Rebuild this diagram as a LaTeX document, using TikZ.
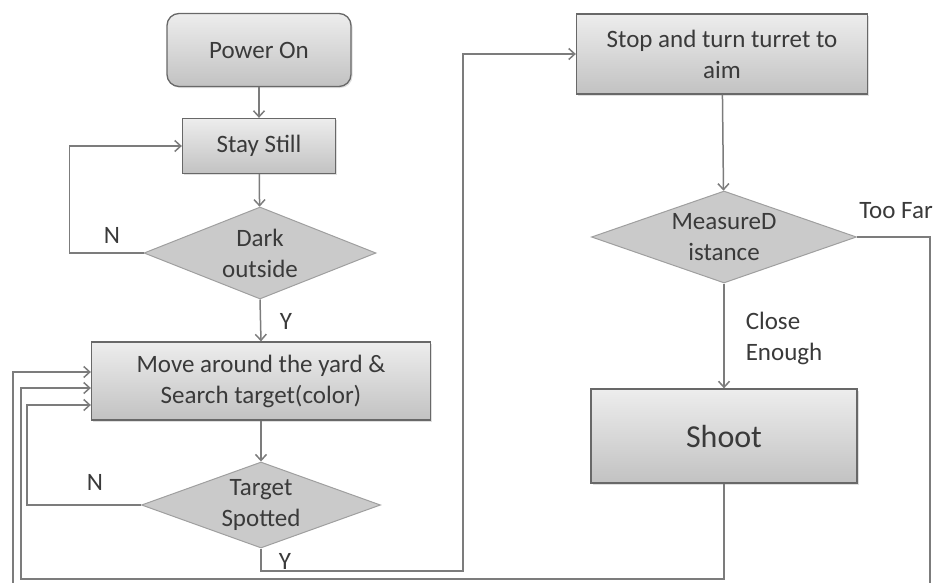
\documentclass[tikz,border=0pt]{standalone}
\usepackage{fontspec}
\setmainfont{Carlito}
\usepackage{tikz}
\usetikzlibrary{positioning}
\usetikzlibrary{shapes.geometric}
\usetikzlibrary{shadows}
\usetikzlibrary{arrows.meta}
\definecolor{linegray}{HTML}{7C7C7C}
\definecolor{edgegray}{HTML}{686868}
\definecolor{boxtop}{HTML}{EDEDED}
\definecolor{boxbot}{HTML}{C2C2C2}
\definecolor{diafill}{HTML}{CACACA}
\definecolor{txtgray}{HTML}{3A3A3A}
\begin{document}
\begin{tikzpicture}[x=1pt,y=-1pt,->,>={Straight Barb[length=6pt,width=11pt]},
                    line width=1.5pt,draw=linegray,
                    every node/.style={text=txtgray,font=\fontsize{25}{31}\selectfont},
                    proc node/.style={rectangle,draw=edgegray,line width=1.3pt,
                            top color=boxtop,bottom color=boxbot,align=center,inner sep=0pt,
                            drop shadow={opacity=0.25,shadow xshift=1.5pt,shadow yshift=-1.5pt}},
                    start node/.style={proc node,rounded corners=12pt},
                    test node/.style={diamond,draw=gray!75,line width=1pt,fill=diafill,
                            align=center,inner sep=0pt,aspect=2.5},
                    label node/.style={inner sep=0pt,align=left}]

                \useasboundingbox (0,0) rectangle (935,582);

                % left column
                \node[start node,minimum width=184pt,minimum height=73pt] (power) at (259,50) {Power On};
                \node[proc node,minimum width=153pt,minimum height=55pt] (still) at (259,146) {Stay Still};
                \node[test node,minimum width=232pt,minimum height=92pt] (dark) at (260,253) {Dark\\outside};
                \node[proc node,minimum width=339pt,minimum height=78pt] (move) at (261,381) {Move around the yard \&\\Search target(color)};
                \node[test node,minimum width=239pt,minimum height=86pt] (target) at (261,505) {Target\\Spotted};

                % right column
                \node[proc node,minimum width=291pt,minimum height=80pt] (stop) at (722,54) {Stop and turn turret to\\aim};
                \node[test node,minimum width=265pt,minimum height=92pt] (measure) at (724,237) {MeasureD\\istance};
                \node[proc node,minimum width=266pt,minimum height=94pt,
                      font=\fontsize{32}{38}\selectfont] (shoot) at (724,436) {Shoot};

                % bends
                \coordinate (ybend) at (463,571);
                \coordinate (farcorner) at (930,592);
                \coordinate (farleft) at (13,592);
                \coordinate (shootleft) at (21,579);

                \draw (power) -- (still);
                \draw (still) -- (dark);
                \draw (dark.west) -- ++(-74,0) |- (still.west);
                \draw (dark.south) -- (move.north);
                \draw (move) -- (target);
                \draw (target.west) -- ++(-114,0) |- ([yshift=-24pt]move.west);
                \draw (target.south) |- (ybend) |- (stop.west);
                \draw (stop) -- (measure);
                \draw (measure) -- (shoot);
                \draw (measure.east) -| (farcorner) -- (farleft) |- ([yshift=9pt]move.west);
                \draw (shoot.south) |- (shootleft) |- ([yshift=-7pt]move.west);

                % labels
                \node[label node] (ndark) at (112,235) {N};
                \node[label node] (ydark) at (286,321) {Y};
                \node[label node] (ntarget) at (95,482) {N};
                \node[label node] (ytarget) at (285,561) {Y};
                \node[label node] (toofar) at (896,211) {Too Far};
                \node[label node,anchor=west] (close) at (745,338) {Close\\Enough};
            \end{tikzpicture}
\end{document}
